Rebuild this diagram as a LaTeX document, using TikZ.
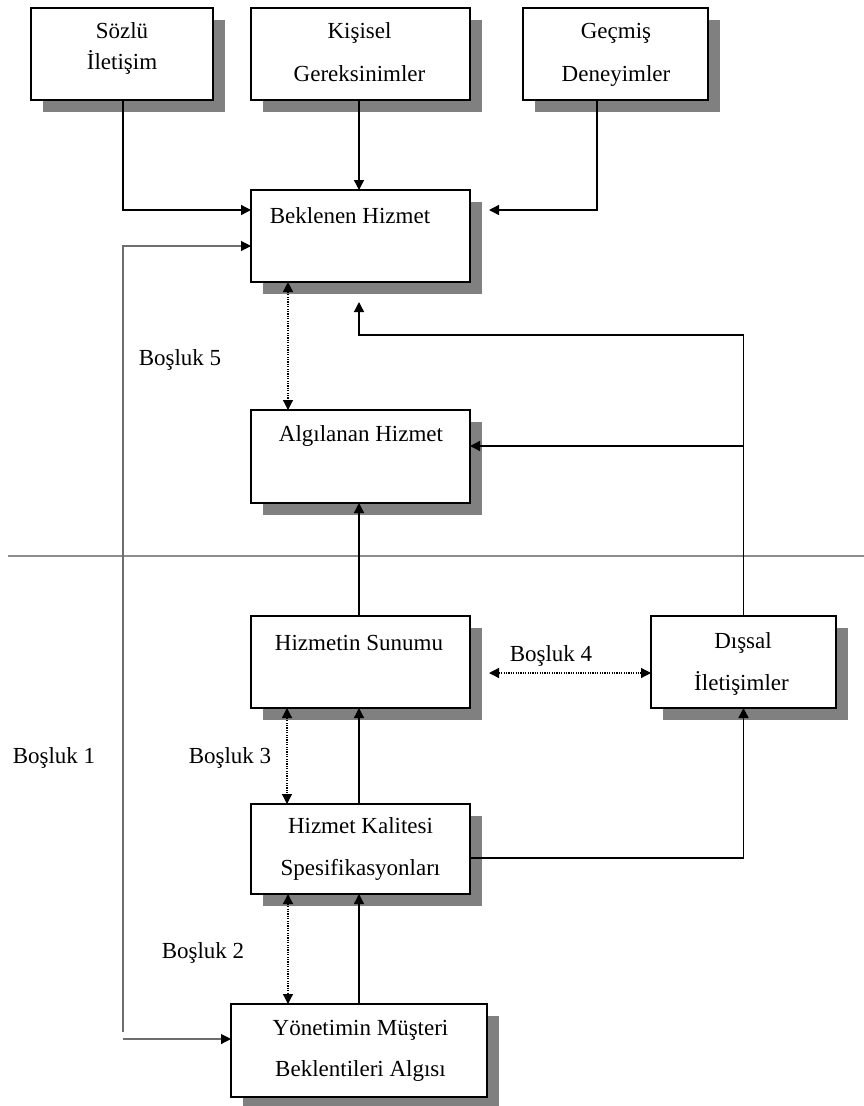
\documentclass[tikz,border=0pt]{standalone}
\usepackage{fontspec}
\setmainfont{Liberation Serif}
\usetikzlibrary{arrows.meta,shadows,calc}
\definecolor{shadowgray}{RGB}{128,128,128}
\definecolor{rulegray}{RGB}{140,140,140}
\definecolor{gapgray}{RGB}{110,110,110}
\begin{document}
\begin{tikzpicture}[x=1pt,y=-1pt,
  box/.style={draw=black, line width=1.7pt, fill=white, inner sep=0pt, outer sep=0pt,
    drop shadow={shadow xshift=12pt, shadow yshift=-12pt, fill=shadowgray, opacity=1}},
  txt/.style={anchor=base, inner sep=0pt, font=\fontsize{23}{27}\selectfont},
  arr/.style={line width=1.4pt, -{Triangle[length=10pt,width=10pt]}},
  garr/.style={line width=1.1pt, draw=gapgray, -{Triangle[length=10pt,width=10pt,fill=black,color=black]}},
  dotarr/.style={line width=1.2pt, dash pattern=on 1.2pt off 1.2pt,
    {Triangle[length=10pt,width=10pt]}-{Triangle[length=10pt,width=10pt]}}
]
\useasboundingbox (0,0) rectangle (864,1106);

% boxes
\node[box, minimum width=182pt, minimum height=92pt] (soz) at (122,54) {};
\node[box, minimum width=219pt, minimum height=92pt] (kis) at (360.5,54) {};
\node[box, minimum width=185pt, minimum height=92pt] (gec) at (615.5,54) {};
\node[box, minimum width=219pt, minimum height=92pt] (bek) at (360.5,236) {};
\node[box, minimum width=219pt, minimum height=93pt] (alg) at (360.5,456.5) {};
\node[box, minimum width=219pt, minimum height=92pt] (sun) at (360.5,662) {};
\node[box, minimum width=185pt, minimum height=92pt] (dis) at (743.5,662) {};
\node[box, minimum width=219pt, minimum height=90pt] (kal) at (360.5,849) {};
\node[box, minimum width=256pt, minimum height=93pt] (yon) at (359,1050.5) {};

% box texts
\node[txt] (soz1) at (122,38) {Sözlü};
\node[txt] (soz2) at (122,69) {İletişim};
\node[txt] (kis1) at (359.5,38) {Kişisel};
\node[txt] (kis2) at (359.5,81) {Gereksinimler};
\node[txt] (gec1) at (616,38) {Geçmiş};
\node[txt] (gec2) at (616,81) {Deneyimler};
\node[txt] (bek1) at (350,223) {Beklenen Hizmet};
\node[txt] (alg1) at (361,441) {Algılanan Hizmet};
\node[txt] (sun1) at (359,650) {Hizmetin Sunumu};
\node[txt] (dis1) at (743,648) {Dışsal};
\node[txt] (dis2) at (741.5,690) {İletişimler};
\node[txt] (kal1) at (360.5,833) {Hizmet Kalitesi};
\node[txt] (kal2) at (360.5,875) {Spesifikasyonları};
\node[txt] (yon1) at (360.5,1035) {Yönetimin Müşteri};
\node[txt] (yon2) at (360.5,1076) {Beklentileri Algısı};

% gap labels
\node[txt] (g5) at (180,365) {Boşluk 5};
\node[txt] (g1) at (54,763) {Boşluk 1};
\node[txt] (g3) at (230,763) {Boşluk 3};
\node[txt] (g2) at (203,958) {Boşluk 2};
\node[txt] (g4) at (551,661) {Boşluk 4};

% dividing rule
\coordinate (rl) at (8,556);
\coordinate (rr) at (864,556);
\draw[rulegray, line width=1.3pt] (rl) -- (rr);

% inputs to the expected service
\draw[arr] ($(soz.south)+(1,0)$) |- ($(bek.north west)+(0,20)$);
\draw[arr] ($(kis.south)+(-1.5,0)$) -- ($(bek.north)+(-1.5,0)$);
\draw[arr] ($(gec.south)+(-18.5,0)$) |- ($(bek.north east)+(19,20)$);

% gap 1 line
\coordinate (g1a) at (123,1032);
\coordinate (g1c) at (123,1039);
\draw[garr] (g1a) |- ($(bek.north west)+(0,56)$);
\draw[garr] (g1c) -- (yon.west |- g1c);

% gap 5
\draw[dotarr] ($(bek.south west)+(37,0)$) -- ($(alg.north west)+(37,0)$);

% delivery to perceived service
\draw[arr] ($(sun.north)+(-1.5,0)$) -- ($(alg.south)+(-1.5,0)$);

% external communications
\coordinate (exj) at ($(alg.north east)+(0,36)$);
\draw[arr] (dis.north) |- ($(bek.south)+(-1.5,53)$) -- ($(bek.south)+(-1.5,20)$);
\draw[arr] (dis.north |- exj) -- (exj);

% gap 4
\draw[dotarr] ($(sun.east)+(19,11)$) -- ($(dis.west)+(0,11)$);

% specifications
\draw[arr] ($(kal.north)+(-1.5,0)$) -- ($(sun.south)+(-1.5,0)$);
\draw[dotarr] ($(sun.south west)+(36,0)$) -- ($(kal.north west)+(36,0)$);
\draw[arr] ($(kal.east)+(0,9)$) -| (dis.south);

% management perception
\coordinate (d2) at ($(kal.south west)+(37,0)$);
\draw[arr] (yon.north) -- (yon.north |- kal.south);
\draw[dotarr] (d2) -- (d2 |- yon.north);
\end{tikzpicture}
\end{document}
